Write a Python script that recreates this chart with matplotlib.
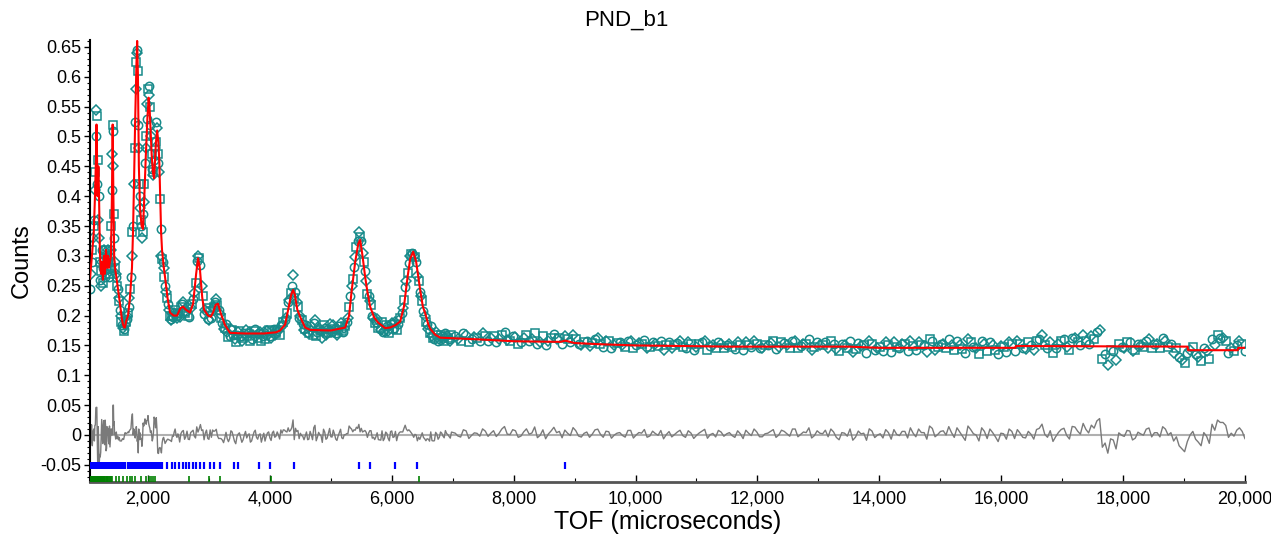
import matplotlib
matplotlib.use("Agg")
import matplotlib.pyplot as plt
import numpy as np
from matplotlib.ticker import FuncFormatter, MultipleLocator

plt.rcParams['font.family'] = ['Liberation Sans', 'DejaVu Sans']

# observed counts, low TOF region (explicit TOF)
obs_tof_low = [1050, 1062, 1074, 1086, 1098, 1110, 1120, 1128, 1136, 1144, 1152, 1160, 1168, 1176,
               1184, 1192, 1200, 1208, 1216, 1224, 1232, 1240, 1248, 1256, 1264, 1272, 1280, 1288,
               1296, 1304, 1312, 1320, 1328, 1336, 1344, 1352, 1360, 1368, 1376, 1384, 1392, 1400,
               1408, 1414, 1420, 1426, 1432, 1438, 1444, 1452, 1460, 1470, 1480, 1492, 1504, 1516,
               1528, 1540, 1552, 1564, 1576, 1588, 1600, 1612, 1624, 1636, 1648, 1660, 1672, 1684,
               1696, 1708, 1720, 1732, 1744, 1756, 1768, 1780, 1790, 1800, 1808, 1816, 1824, 1832,
               1840, 1848, 1856, 1864, 1872, 1880, 1890, 1900, 1910, 1920, 1930, 1940, 1950, 1960,
               1970, 1980, 1990, 2000, 2010, 2020, 2030, 2040, 2050, 2060, 2070, 2080, 2090, 2100,
               2112, 2124, 2136, 2148, 2160, 2172, 2184, 2196, 2208, 2220, 2232, 2244, 2256, 2268,
               2280, 2295, 2310, 2325, 2340, 2355, 2370, 2385, 2400, 2415, 2430, 2445, 2460, 2475, 2490]
obs_low = [0.245, 0.27, 0.31, 0.29, 0.33, 0.35, 0.36, 0.41, 0.44, 0.50, 0.545, 0.535, 0.42, 0.36,
           0.46, 0.40, 0.33, 0.29, 0.26, 0.25, 0.275, 0.31, 0.29, 0.255, 0.28, 0.31, 0.29, 0.265,
           0.30, 0.31, 0.28, 0.27, 0.295, 0.29, 0.31, 0.28, 0.265, 0.30, 0.27, 0.29, 0.31, 0.35,
           0.41, 0.47, 0.52, 0.51, 0.45, 0.37, 0.33, 0.29, 0.28, 0.265, 0.27, 0.25, 0.245, 0.23,
           0.225, 0.21, 0.20, 0.19, 0.185, 0.18, 0.175, 0.178, 0.185, 0.19, 0.195, 0.20, 0.205, 0.215,
           0.23, 0.245, 0.265, 0.30, 0.34, 0.35, 0.42, 0.48, 0.525, 0.58, 0.625, 0.645, 0.64, 0.61,
           0.52, 0.48, 0.42, 0.40, 0.38, 0.36, 0.35, 0.33, 0.34, 0.37, 0.39, 0.42, 0.455, 0.48,
           0.50, 0.53, 0.555, 0.58, 0.585, 0.57, 0.55, 0.52, 0.50, 0.47, 0.445, 0.435, 0.44, 0.46,
           0.48, 0.49, 0.525, 0.515, 0.47, 0.455, 0.44, 0.395, 0.345, 0.30, 0.295, 0.29, 0.28, 0.265,
           0.25, 0.24, 0.23, 0.22, 0.21, 0.20, 0.195, 0.192, 0.20, 0.198, 0.205, 0.21, 0.20, 0.196, 0.205]

# observed counts, 2500-6980 us, every 40 us
obs_mid = [0.205, 0.215, 0.222, 0.207, 0.200, 0.212, 0.228, 0.255, 0.300, 0.285,
           0.232, 0.210, 0.195, 0.207, 0.212, 0.222, 0.218, 0.203, 0.188, 0.180,
           0.172, 0.166, 0.176, 0.160, 0.168, 0.174, 0.158, 0.170, 0.165, 0.172,
           0.160, 0.175, 0.166, 0.170, 0.158, 0.173, 0.168, 0.176, 0.162, 0.178,
           0.170, 0.174, 0.185, 0.190, 0.196, 0.222, 0.238, 0.268, 0.240, 0.215,
           0.200, 0.186, 0.178, 0.170, 0.182, 0.168, 0.192, 0.172, 0.176, 0.163,
           0.180, 0.170, 0.186, 0.172, 0.178, 0.168, 0.182, 0.174, 0.180, 0.190,
           0.215, 0.250, 0.282, 0.315, 0.340, 0.325, 0.290, 0.258, 0.232, 0.218,
           0.196, 0.190, 0.180, 0.176, 0.172, 0.184, 0.174, 0.186, 0.178, 0.190,
           0.186, 0.196, 0.212, 0.248, 0.272, 0.300, 0.305, 0.298, 0.266, 0.240,
           0.225, 0.200, 0.186, 0.170, 0.165, 0.160, 0.168, 0.160, 0.166, 0.158,
           0.165, 0.160, 0.167]
# observed counts, 2520-6960 us, every 40 us (interleaved bins)
obs_mid2 = [0.198, 0.220, 0.205, 0.215, 0.198, 0.220, 0.238, 0.292, 0.296, 0.250,
            0.202, 0.212, 0.192, 0.196, 0.215, 0.228, 0.210, 0.196, 0.178, 0.186,
            0.164, 0.178, 0.168, 0.156, 0.172, 0.166, 0.162, 0.176, 0.170, 0.158,
            0.168, 0.178, 0.163, 0.172, 0.166, 0.160, 0.174, 0.166, 0.175, 0.168,
            0.178, 0.168, 0.182, 0.192, 0.205, 0.226, 0.250, 0.230, 0.222, 0.196,
            0.192, 0.176, 0.184, 0.170, 0.176, 0.188, 0.166, 0.180, 0.174, 0.185,
            0.168, 0.178, 0.172, 0.184, 0.170, 0.176, 0.188, 0.173, 0.182, 0.196,
            0.232, 0.262, 0.298, 0.325, 0.332, 0.305, 0.275, 0.236, 0.225, 0.200,
            0.188, 0.194, 0.178, 0.190, 0.174, 0.182, 0.170, 0.188, 0.180, 0.176,
            0.192, 0.204, 0.226, 0.258, 0.288, 0.303, 0.300, 0.290, 0.258, 0.232,
            0.208, 0.190, 0.178, 0.182, 0.162, 0.172, 0.158, 0.168, 0.161, 0.170,
            0.163, 0.157]

# observed counts, 7040-20000 us, every 90 us
obs_tail = [0.165, 0.158, 0.168, 0.160, 0.163, 0.170, 0.157, 0.166, 0.161, 0.172,
            0.158, 0.164, 0.155, 0.167, 0.160, 0.152, 0.165, 0.158, 0.169, 0.162,
            0.166, 0.155, 0.161, 0.150, 0.158, 0.154, 0.162, 0.148, 0.157, 0.151,
            0.155, 0.147, 0.158, 0.150, 0.153, 0.146, 0.156, 0.149, 0.143, 0.155,
            0.150, 0.157, 0.145, 0.152, 0.148, 0.155, 0.143, 0.151, 0.156, 0.146,
            0.152, 0.144, 0.150, 0.156, 0.147, 0.153, 0.145, 0.151, 0.157, 0.148,
            0.154, 0.146, 0.158, 0.149, 0.152, 0.143, 0.155, 0.150, 0.145, 0.153,
            0.140, 0.151, 0.158, 0.144, 0.149, 0.138, 0.153, 0.146, 0.141, 0.150,
            0.155, 0.145, 0.152, 0.158, 0.143, 0.150, 0.139, 0.157, 0.147, 0.153,
            0.160, 0.142, 0.151, 0.137, 0.155, 0.146, 0.158, 0.140, 0.150, 0.135,
            0.148, 0.156, 0.140, 0.152, 0.144, 0.150, 0.158, 0.167, 0.145, 0.138,
            0.153, 0.160, 0.142, 0.162, 0.150, 0.158, 0.165, 0.172, 0.128, 0.118,
            0.140, 0.152, 0.146, 0.155, 0.143, 0.150, 0.158, 0.145, 0.152, 0.162,
            0.148, 0.138, 0.130, 0.120, 0.142, 0.135, 0.124, 0.140, 0.160, 0.167,
            0.163, 0.138, 0.140, 0.158, 0.140]
# observed counts, 7085-19955 us, every 90 us (interleaved bins)
obs_tail2 = [0.160, 0.170, 0.155, 0.164, 0.158, 0.166, 0.162, 0.156, 0.168, 0.159,
             0.166, 0.153, 0.162, 0.158, 0.170, 0.156, 0.150, 0.163, 0.160, 0.152,
             0.160, 0.167, 0.152, 0.156, 0.149, 0.161, 0.153, 0.158, 0.146, 0.154,
             0.150, 0.158, 0.145, 0.154, 0.159, 0.148, 0.152, 0.157, 0.150, 0.146,
             0.154, 0.148, 0.156, 0.143, 0.152, 0.158, 0.149, 0.145, 0.153, 0.150,
             0.147, 0.155, 0.142, 0.151, 0.158, 0.145, 0.150, 0.154, 0.144, 0.156,
             0.150, 0.158, 0.145, 0.153, 0.160, 0.147, 0.151, 0.156, 0.158, 0.144,
             0.152, 0.146, 0.139, 0.154, 0.150, 0.157, 0.142, 0.148, 0.155, 0.139,
             0.147, 0.152, 0.141, 0.149, 0.156, 0.150, 0.161, 0.143, 0.152, 0.146,
             0.150, 0.158, 0.144, 0.161, 0.148, 0.136, 0.152, 0.156, 0.143, 0.149,
             0.139, 0.152, 0.158, 0.145, 0.155, 0.142, 0.160, 0.150, 0.156, 0.146,
             0.158, 0.148, 0.163, 0.155, 0.168, 0.152, 0.160, 0.176, 0.135, 0.142,
             0.125, 0.148, 0.156, 0.140, 0.153, 0.148, 0.160, 0.152, 0.145, 0.158,
             0.152, 0.145, 0.125, 0.137, 0.148, 0.130, 0.146, 0.128, 0.150, 0.163,
             0.158, 0.145, 0.150, 0.152]

# calculated profile
calc_tof = [1048, 1080, 1110, 1130, 1148, 1155, 1163, 1172, 1185, 1195, 1210, 1228, 1245, 1261,
            1278, 1294, 1310, 1327, 1345, 1360, 1376, 1392, 1408, 1420, 1432, 1445, 1458, 1480,
            1507, 1540, 1570, 1590, 1610, 1622, 1640, 1672, 1704, 1737, 1754, 1770, 1790, 1810,
            1822, 1835, 1850, 1869, 1895, 1918, 1940, 1965, 1990, 2010, 2025, 2060, 2080, 2100,
            2130, 2150, 2170, 2185, 2200, 2215, 2230, 2260, 2279, 2320, 2361, 2420, 2476, 2530, 2575,
            2620, 2690, 2740, 2790, 2821, 2850, 2890, 2920, 2985, 3030, 3067, 3110, 3149, 3190,
            3264, 3346, 3600, 3900, 4100, 4167, 4250, 4300, 4350, 4381, 4410, 4450, 4496, 4578,
            4660, 5000, 5235, 5300, 5340, 5400, 5450, 5481, 5520, 5563, 5600, 5645, 5710, 5777,
            5892, 5974, 6060, 6138, 6200, 6260, 6302, 6351, 6400, 6466, 6510, 6548, 6600, 6630,
            6713, 6795, 7451, 8000, 8765, 8850, 9000, 9422, 10000, 11556, 13500, 14000, 16236,
            16240, 19060, 19065, 19882, 19890, 20000]
calc = [0.262, 0.30, 0.34, 0.40, 0.47, 0.52, 0.47, 0.40, 0.45, 0.41, 0.31, 0.27, 0.29, 0.26,
        0.30, 0.27, 0.31, 0.28, 0.30, 0.28, 0.29, 0.30, 0.40, 0.52, 0.40, 0.30, 0.28, 0.265,
        0.245, 0.22, 0.195, 0.185, 0.18, 0.18, 0.19, 0.20, 0.23, 0.28, 0.34, 0.42, 0.53, 0.62,
        0.66, 0.60, 0.45, 0.38, 0.35, 0.345, 0.40, 0.47, 0.53, 0.565, 0.55, 0.47, 0.44, 0.43,
        0.49, 0.51, 0.49, 0.46, 0.40, 0.34, 0.31, 0.28, 0.265, 0.23, 0.205, 0.20, 0.20, 0.212, 0.215,
        0.21, 0.205, 0.22, 0.27, 0.296, 0.28, 0.23, 0.21, 0.20, 0.198, 0.205, 0.218, 0.22, 0.205,
        0.184, 0.171, 0.170, 0.170, 0.172, 0.175, 0.185, 0.21, 0.235, 0.243, 0.235, 0.21, 0.198, 0.180,
        0.176, 0.175, 0.180, 0.20, 0.24, 0.29, 0.32, 0.327, 0.30, 0.265, 0.24, 0.215, 0.197, 0.188,
        0.179, 0.180, 0.184, 0.190, 0.215, 0.265, 0.295, 0.307, 0.29, 0.243, 0.215, 0.204, 0.185, 0.178,
        0.168, 0.163, 0.160, 0.157, 0.156, 0.158, 0.154, 0.152, 0.150, 0.148, 0.148, 0.146, 0.146,
        0.149, 0.148, 0.142, 0.142, 0.146, 0.146]

# reflection tick positions
phase1_tof = [1052, 1064, 1071, 1083, 1096, 1104, 1117, 1125, 1138, 1149, 1161, 1170, 1184, 1193,
              1207, 1216, 1229, 1241, 1250, 1263, 1277, 1286, 1299, 1311, 1322, 1336, 1347, 1359,
              1370, 1384, 1396, 1409, 1421, 1433, 1447, 1460, 1472, 1487, 1499, 1513, 1526, 1540,
              1553, 1567, 1581, 1594, 1608, 1620,
              1675, 1689, 1703, 1716, 1731, 1745, 1760, 1774, 1789, 1803, 1818, 1833, 1848, 1864,
              1879, 1894, 1910, 1926, 1942, 1958, 1974, 1990, 2007, 2023, 2040, 2057, 2074, 2091,
              2108, 2126, 2143, 2161, 2179, 2197, 2215, 2230,
              2312, 2394, 2443, 2509, 2575, 2624, 2673, 2739, 2788, 2854, 2920, 3018, 3084, 3182,
              3412, 3478, 3823, 4003, 4397, 5465, 5645, 6056, 6417, 8847]
phase2_tof = [1052, 1060, 1068, 1077, 1085, 1094, 1102, 1111, 1120, 1129, 1138, 1147, 1157, 1166,
              1176, 1186, 1196, 1206, 1216, 1227, 1238, 1249, 1260, 1271, 1283, 1295, 1307, 1320,
              1333, 1346, 1360, 1374, 1389, 1404, 1480, 1530, 1590, 1650, 1700, 1740, 1790, 1880,
              1960, 2020, 2050, 2080, 2120, 2673, 3002, 3182, 4020, 6450]

obs_tof = np.concatenate([obs_tof_low,
                          2500 + 40 * np.arange(len(obs_mid)),
                          2520 + 40 * np.arange(len(obs_mid2)),
                          7040 + 90 * np.arange(len(obs_tail)),
                          7085 + 90 * np.arange(len(obs_tail2))])
obs = np.concatenate([obs_low, obs_mid, obs_mid2, obs_tail, obs_tail2])
order = np.argsort(obs_tof, kind='stable')
obs_tof = obs_tof[order]
obs = obs[order]
diff = obs - np.interp(obs_tof, calc_tof, calc)

fig = plt.figure(figsize=(12.71, 5.39), dpi=100)
ax = fig.add_axes([0.0708, 0.1058, 0.9087, 0.82])

teal = '#178a8a'
for i, m in enumerate(['o', 'D', 's']):
    ax.plot(obs_tof[i::3], obs[i::3], linestyle='none', marker=m, ms=6 if m != 'D' else 5.4,
            mfc='none', mec=teal, mew=1.1, zorder=2)
ax.plot(calc_tof, calc, color='#ff0000', lw=1.5, zorder=3)

ax.axhline(0, color='#b0b0b0', lw=1.5, zorder=1)
ax.plot(obs_tof, diff, color='#7a7a7a', lw=1.0, zorder=2)

ax.vlines(phase1_tof, -0.0565, -0.0455, color='#0000ff', lw=1.6, zorder=3)
ax.vlines(phase2_tof, -0.0785, -0.069, color='#008000', lw=1.2, zorder=3)

ax.set_xlim(1048, 20000)
ax.set_ylim(-0.0787, 0.6616)

ax.set_yticks(np.arange(-0.05, 0.651, 0.05))
ax.yaxis.set_major_formatter(FuncFormatter(lambda v, p: '%g' % round(v, 2)))
ax.yaxis.set_minor_locator(MultipleLocator(0.01))
ax.xaxis.set_major_locator(MultipleLocator(2000))
ax.xaxis.set_minor_locator(MultipleLocator(1000))
ax.xaxis.set_major_formatter(FuncFormatter(lambda v, p: '{:,.0f}'.format(v)))

ax.tick_params(axis='y', which='major', direction='out', length=4, width=1, labelsize=13, pad=2)
ax.tick_params(axis='y', which='minor', direction='out', length=2, width=0.8)
ax.tick_params(axis='x', which='major', direction='in', length=5, width=1, labelsize=13, pad=6)
ax.tick_params(axis='x', which='minor', direction='in', length=3, width=0.8)

for s in ['top', 'right']:
    ax.spines[s].set_visible(False)
ax.spines['left'].set_color('black')
ax.spines['left'].set_linewidth(1.5)
ax.spines['bottom'].set_color('#555555')
ax.spines['bottom'].set_linewidth(2)

fig.text(0.493, 0.963, 'PND_b1', fontsize=16, ha='center', va='center')
ax.set_xlabel('TOF (microseconds)', fontsize=18, labelpad=2)
ax.set_ylabel('Counts', fontsize=17, labelpad=6)

fig.savefig('out.png', dpi=100)
